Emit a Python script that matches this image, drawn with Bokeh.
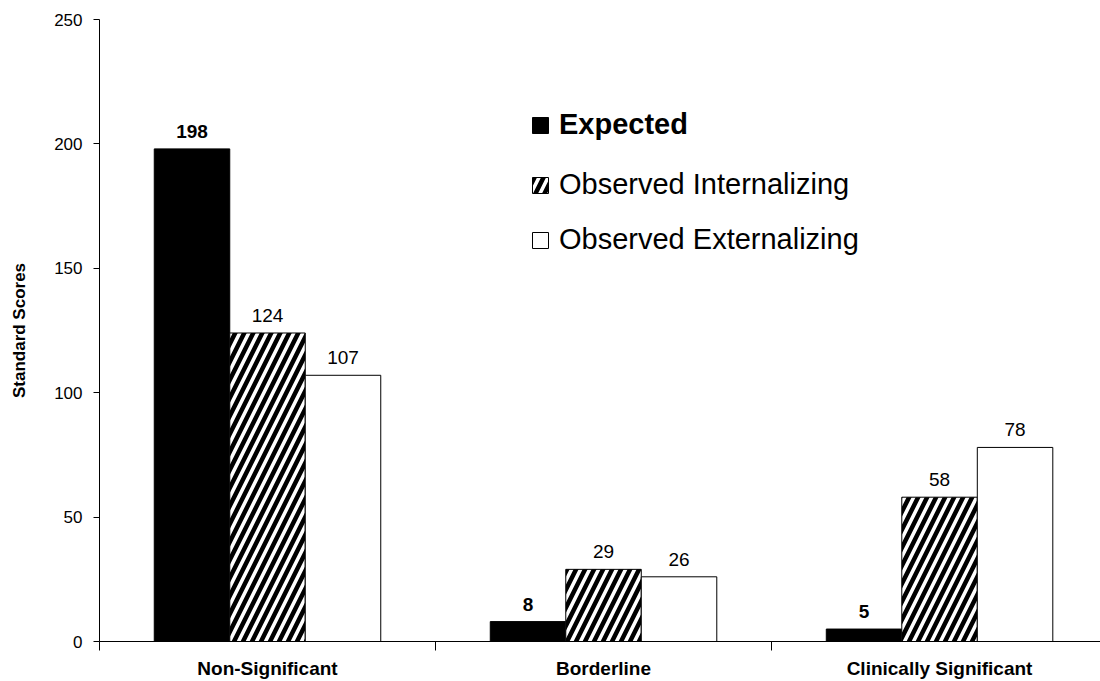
import numpy as np
from bokeh.plotting import figure
from bokeh.models import (ColumnDataSource, FixedTicker, Range1d, LabelSet, Legend, LegendItem)
from bokeh.core.properties import value
from bokeh.embed import file_html
from bokeh.resources import INLINE

categories = ["Non-Significant", "Borderline", "Clinically Significant"]
expected = [198, 8, 5]
observed_internalizing = [124, 29, 58]
observed_externalizing = [107, 26, 78]
y_ticks = [0, 50, 100, 150, 200, 250]

BAR_W = 0.2247
FONT = "Liberation Sans"

xc = np.arange(len(categories)) + 0.5
src = ColumnDataSource(dict(
    x_exp=xc - BAR_W, x_int=xc, x_ext=xc + BAR_W,
    expected=expected, internal=observed_internalizing, external=observed_externalizing,
    t_exp=[str(v) for v in expected],
    t_int=[str(v) for v in observed_internalizing],
    t_ext=[str(v) for v in observed_externalizing],
))

p = figure(width=1100, height=681, output_backend="svg", toolbar_location=None,
           x_range=Range1d(0, 2.979), y_range=Range1d(0, 250),
           min_border_left=99, min_border_right=0, min_border_top=19, min_border_bottom=38)
p.outline_line_color = None
p.xgrid.visible = False
p.ygrid.visible = False
p.background_fill_color = "white"
p.border_fill_color = "white"

r_exp = p.vbar(x="x_exp", top="expected", width=BAR_W, source=src,
               fill_color="black", line_color="black", line_width=1)
r_int = p.vbar(x="x_int", top="internal", width=BAR_W, source=src,
               fill_color="white", line_color="black", line_width=1,
               hatch_pattern="/", hatch_color="black", hatch_scale=18, hatch_weight=4.5)
r_ext = p.vbar(x="x_ext", top="external", width=BAR_W, source=src,
               fill_color="white", line_color="black", line_width=1)

common = dict(source=src, text_align="center", text_baseline="alphabetic", y_offset=11,
              text_font=value(FONT), text_font_size=value("19px"), text_color="black")
p.add_layout(LabelSet(x="x_exp", y="expected", text="t_exp", text_font_style="bold", **common))
p.add_layout(LabelSet(x="x_int", y="internal", text="t_int", **common))
p.add_layout(LabelSet(x="x_ext", y="external", text="t_ext", **common))

# y axis
ya = p.yaxis[0]
ya.ticker = FixedTicker(ticks=y_ticks)
ya.minor_tick_line_color = None
ya.major_tick_out = 6
ya.major_tick_in = 0
ya.major_label_standoff = 11
ya.major_label_text_font = FONT
ya.major_label_text_font_size = "17px"
ya.major_label_text_color = "black"
ya.axis_line_color = "black"
ya.major_tick_line_color = "black"
ya.axis_label = "Standard Scores"
ya.axis_label_text_font = FONT
ya.axis_label_text_font_style = "bold"
ya.axis_label_text_font_size = "17px"
ya.axis_label_text_color = "black"
ya.axis_label_standoff = 22

# x axis
xa = p.xaxis[0]
xa.ticker = FixedTicker(ticks=list(xc), minor_ticks=list(range(len(categories) + 1)))
xa.major_label_overrides = {float(v): c for v, c in zip(xc, categories)}
xa.major_tick_out = 0
xa.major_tick_in = 0
xa.minor_tick_out = 9
xa.minor_tick_in = 0
xa.minor_tick_line_color = "black"
xa.axis_line_color = "black"
xa.major_label_standoff = 7
xa.major_label_text_font = FONT
xa.major_label_text_font_style = "bold"
xa.major_label_text_font_size = "19px"
xa.major_label_text_color = "black"

leg1 = Legend(items=[LegendItem(label="Expected", renderers=[r_exp])],
              location=(431, 500), orientation="vertical",
              glyph_width=20, glyph_height=20, label_standoff=9,
              label_text_font=FONT, label_text_font_style="bold", label_text_font_size="29px",
              label_text_color="black", padding=0, margin=0, border_line_color=None,
              background_fill_alpha=0)
leg2 = Legend(items=[LegendItem(label="Observed Internalizing", renderers=[r_int]),
                     LegendItem(label="Observed Externalizing", renderers=[r_ext])],
              location=(431, 385), orientation="vertical",
              glyph_width=20, glyph_height=20, label_standoff=9, spacing=22,
              label_text_font=FONT, label_text_font_size="29px",
              label_text_color="black", padding=0, margin=0, border_line_color=None,
              background_fill_alpha=0)
p.add_layout(leg1, "center")
p.add_layout(leg2, "center")

open("out.html", "w").write(file_html(p, INLINE))
